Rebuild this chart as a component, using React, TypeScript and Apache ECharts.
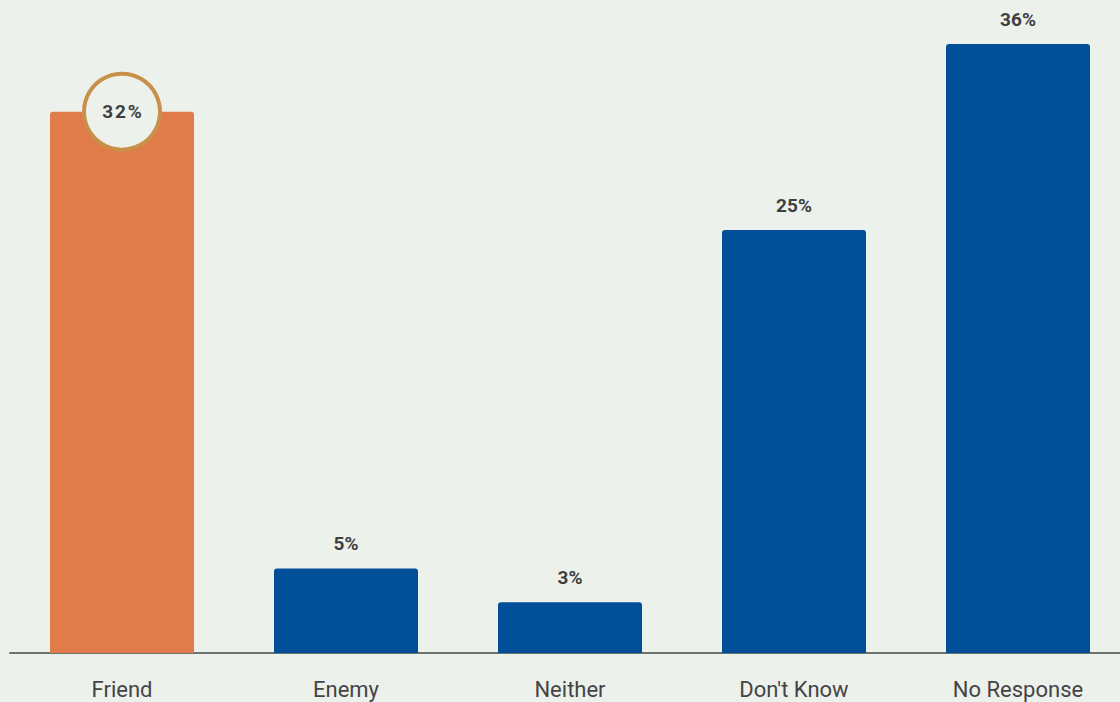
import React, { useEffect, useRef } from "react";
import * as echarts from "echarts";

const categories = ["Friend", "Enemy", "Neither", "Don't Know", "No Response"];
const values = [32, 5, 3, 25, 36];
const highlightIndex = 0;

const BG = "#EDF1EC";
const BLUE = "#014F99";
const ORANGE = "#E07B4A";

export default function App() {
  const ref = useRef<HTMLDivElement>(null);
  useEffect(() => {
    if (!ref.current) return;
    const chart = echarts.init(ref.current, null, { renderer: "svg" });
    chart.setOption({
      animation: false,
      backgroundColor: BG,
      grid: { left: 10, width: 1120, top: 44, bottom: 49, containLabel: false },
      xAxis: {
        type: "category",
        data: categories,
        axisLine: { lineStyle: { color: "#6E726E", width: 2 } },
        axisTick: { show: false },
        axisLabel: {
          color: "#444",
          fontSize: 22,
          fontFamily: "Roboto",
          margin: 25,
          interval: 0,
        },
      },
      yAxis: {
        type: "value",
        min: 0,
        max: 36,
        show: false,
        splitLine: { show: false },
      },
      series: [
        {
          type: "bar",
          barWidth: 144,
          data: values.map((v, i) => ({
            value: v,
            itemStyle: { color: i === highlightIndex ? ORANGE : BLUE, borderRadius: [3, 3, 0, 0] },
            label: { show: i !== highlightIndex },
          })),
          label: {
            show: true,
            position: "top",
            distance: 15,
            formatter: "{c}%",
            color: "#3F3F3F",
            fontSize: 19,
            fontWeight: "bold",
            fontFamily: "Roboto",
          },
          markPoint: {
            symbol: "circle",
            symbolSize: 76,
            itemStyle: { color: BG, borderColor: "#C8914A", borderWidth: 4 },
            label: {
              show: true,
              color: "#3F3F3F",
              fontSize: 19,
              fontWeight: "bold",
              fontFamily: "Roboto",
              formatter: () =>
                (values[highlightIndex] + "%").split("").join("\u200A"),
            },
            data: [{ coord: [categories[highlightIndex], values[highlightIndex]] }],
          },
        },
      ],
    });
    return () => chart.dispose();
  }, []);
  return (
    <div
      style={{
        position: "fixed",
        left: 0,
        top: 0,
        width: 1120,
        height: 702,
        overflow: "hidden",
        background: BG,
      }}
    >
      <div ref={ref} style={{ width: 1140, height: 702 }} />
    </div>
  );
}
